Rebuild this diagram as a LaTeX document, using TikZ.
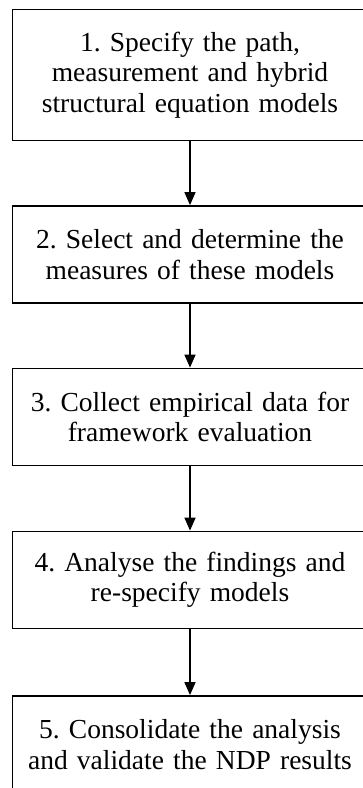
\documentclass[tikz,border=0pt]{standalone}
\usepackage{fontspec}
\setmainfont{Liberation Serif}
\usepackage{tikz}
\usetikzlibrary{arrows.meta}
\frenchspacing

\begin{document}
\begin{tikzpicture}[x=1pt, y=1pt,
    stepbox/.style={draw, rectangle, line width=1.8pt, minimum width=355pt, minimum height=97pt,
        text width=335pt, align=center, font=\fontsize{27.5}{30.5}\selectfont},
    flow/.style={-{Triangle[length=13pt, width=11pt]}, line width=1.5pt}
]
\useasboundingbox (0,0) rectangle (362,-788);

% Steps
\node[stepbox, minimum height=131pt] (s1) at (190,-75) {1. Specify the path,\\ measurement and hybrid\\ structural equation models};
\node[stepbox] (s2) at (190,-254.5) {2. Select and determine the\\ measures of these models};
\node[stepbox] (s3) at (190,-417) {3. Collect empirical data for\\ framework evaluation};
\node[stepbox] (s4) at (190,-580) {4. Analyse the findings and\\ re-specify models};
\node[stepbox] (s5) at (190,-744.5) {5. Consolidate the analysis\\ and validate the NDP results};

% Arrows
\foreach \i/\j in {1/2, 2/3, 3/4, 4/5} {
    \draw[flow] (s\i) -- (s\j);
}
\end{tikzpicture}
\end{document}
